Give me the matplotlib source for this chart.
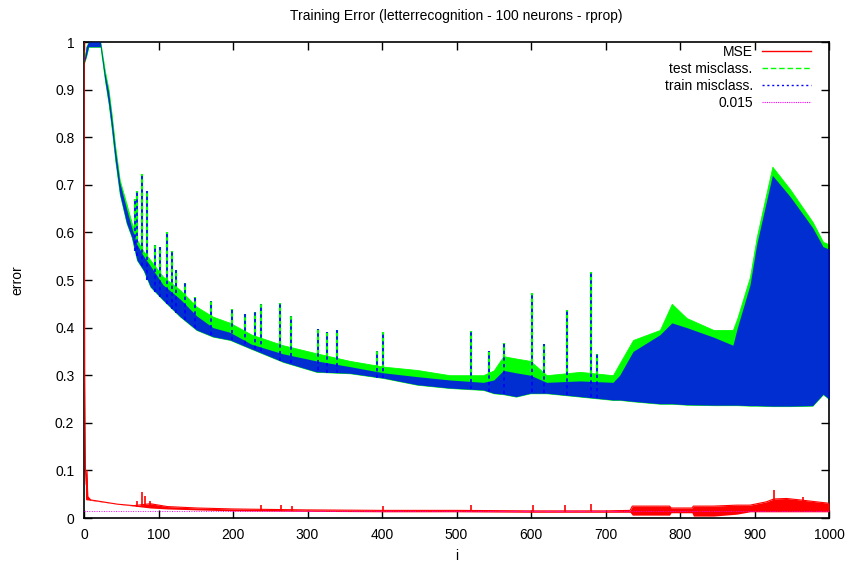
import matplotlib
matplotlib.use("Agg")
import matplotlib.pyplot as plt
from matplotlib.lines import Line2D

plt.rcParams['font.family'] = ['Liberation Sans', 'DejaVu Sans']

title = "Training Error (letterrecognition - 100 neurons - rprop)"
x_ticks = [0, 100, 200, 300, 400, 500, 600, 700, 800, 900, 1000]
y_ticks = [0, 0.1, 0.2, 0.3, 0.4, 0.5, 0.6, 0.7, 0.8, 0.9, 1]
y_tick_labels = ["0", "0.1", "0.2", "0.3", "0.4", "0.5", "0.6", "0.7", "0.8", "0.9", "1"]

# envelope sample positions for test / train misclassification
xs = [0, 3, 6, 22, 28, 33, 37, 42, 48, 57, 64, 71, 80, 89, 106, 129, 151, 173, 196, 225,
      267, 312, 357, 402, 447, 491, 536, 550, 563, 580, 599, 621, 666, 710, 719, 737, 773,
      789, 809, 845, 871, 877, 894, 903, 924, 948, 978, 992, 1000]
test_hi = [0.96, 0.99, 1.0, 1.0, 0.94, 0.90, 0.85, 0.78, 0.71, 0.66, 0.62, 0.585, 0.56, 0.542,
           0.507, 0.479, 0.444, 0.423, 0.41, 0.385, 0.363, 0.346, 0.33, 0.318, 0.311, 0.30, 0.30,
           0.31, 0.34, 0.335, 0.33, 0.30, 0.307, 0.30, 0.325, 0.374, 0.395, 0.45, 0.42, 0.395,
           0.395, 0.42, 0.507, 0.59, 0.738, 0.69, 0.622, 0.58, 0.575]
test_lo = [0.955, 0.97, 0.99, 0.99, 0.92, 0.87, 0.82, 0.75, 0.68, 0.62, 0.59, 0.542, 0.52,
           0.486, 0.458, 0.423, 0.395, 0.381, 0.374, 0.355, 0.328, 0.307, 0.304, 0.294, 0.28,
           0.273, 0.269, 0.262, 0.26, 0.255, 0.262, 0.262, 0.255, 0.248, 0.248, 0.245, 0.24,
           0.24, 0.238, 0.237, 0.237, 0.237, 0.236, 0.236, 0.235, 0.235, 0.236, 0.26, 0.25]
train_hi = [0.96, 0.99, 1.0, 1.0, 0.935, 0.895, 0.845, 0.775, 0.705, 0.65, 0.61, 0.575, 0.55,
            0.53, 0.49, 0.46, 0.425, 0.40, 0.39, 0.365, 0.345, 0.33, 0.318, 0.305, 0.297, 0.29,
            0.285, 0.29, 0.31, 0.305, 0.30, 0.285, 0.288, 0.285, 0.30, 0.35, 0.385, 0.41, 0.40,
            0.38, 0.363, 0.40, 0.49, 0.575, 0.72, 0.675, 0.61, 0.57, 0.565]
train_lo = [0.955, 0.97, 0.99, 0.99, 0.92, 0.87, 0.82, 0.75, 0.68, 0.62, 0.59, 0.542, 0.52,
            0.486, 0.458, 0.423, 0.395, 0.381, 0.374, 0.355, 0.328, 0.307, 0.304, 0.294, 0.28,
            0.273, 0.269, 0.262, 0.26, 0.255, 0.262, 0.262, 0.255, 0.248, 0.248, 0.245, 0.24,
            0.24, 0.238, 0.237, 0.237, 0.237, 0.236, 0.236, 0.235, 0.235, 0.236, 0.26, 0.25]

# isolated spikes in the misclassification curves
spike_x = [69, 71, 78, 85, 95, 102, 112, 118, 124, 136, 149, 171, 198, 216, 229, 238, 263,
           278, 314, 326, 339, 393, 401, 520, 544, 564, 602, 617, 648, 680, 688]
spike_top = [0.67, 0.686, 0.723, 0.686, 0.574, 0.57, 0.60, 0.561, 0.52, 0.493, 0.465, 0.456,
             0.44, 0.428, 0.433, 0.45, 0.452, 0.424, 0.397, 0.39, 0.395, 0.35, 0.39, 0.393,
             0.35, 0.368, 0.473, 0.365, 0.437, 0.517, 0.345]
spike_base = [0.56, 0.55, 0.53, 0.50, 0.475, 0.465, 0.45, 0.44, 0.43, 0.415, 0.40, 0.385,
              0.375, 0.365, 0.355, 0.35, 0.33, 0.325, 0.31, 0.305, 0.305, 0.295, 0.295, 0.27,
              0.265, 0.26, 0.265, 0.262, 0.258, 0.255, 0.253]

# MSE envelope
mse_x = [0, 1, 2, 3, 4, 5, 9, 45, 67, 89, 112, 152, 200, 300, 400, 500, 600, 700, 733, 736,
         786, 788, 816, 818, 845, 876, 894, 916, 926, 943, 961, 983, 1000]
mse_hi = [1.0, 0.30, 0.10, 0.07, 0.10, 0.045, 0.038, 0.029, 0.026, 0.03, 0.024, 0.021, 0.019,
          0.017, 0.016, 0.016, 0.015, 0.015, 0.016, 0.025, 0.025, 0.021, 0.021, 0.025, 0.025,
          0.027, 0.027, 0.034, 0.040, 0.041, 0.038, 0.034, 0.031]
mse_lo = [1.0, 0.30, 0.04, 0.038, 0.038, 0.038, 0.037, 0.029, 0.025, 0.021, 0.019, 0.017,
          0.015, 0.014, 0.013, 0.013, 0.012, 0.012, 0.012, 0.006, 0.006, 0.011, 0.011, 0.004,
          0.004, 0.008, 0.013, 0.013, 0.013, 0.013, 0.013, 0.013, 0.013]
mse_spike_x = [71, 78, 82, 89, 238, 264, 279, 402, 520, 603, 646, 681, 926, 965]
mse_spike_top = [0.035, 0.055, 0.046, 0.035, 0.027, 0.028, 0.025, 0.026, 0.027, 0.027, 0.027,
                 0.029, 0.059, 0.045]
mse_spike_base = [0.024, 0.023, 0.023, 0.021, 0.015, 0.015, 0.015, 0.013, 0.013, 0.012,
                  0.012, 0.012, 0.013, 0.013]

threshold = 0.015

GREEN = "#00ff00"
BLUE = "#0000ff"
RED = "#ff0000"
MAGENTA = "#ff00ff"

fig = plt.figure(figsize=(8.56, 5.68), dpi=100)
ax = fig.add_axes([84 / 856, 50 / 568, 745 / 856, 476 / 568])

# test misclassification (green)
ax.fill_between(xs, test_lo, test_hi, color=GREEN, lw=0.6, zorder=2)
ax.vlines(spike_x, spike_base, spike_top, color=GREEN, lw=1.6, zorder=2)

# train misclassification (blue)
ax.fill_between(xs, train_lo, train_hi, color=BLUE, alpha=0.82, lw=0, zorder=3)
ax.vlines(spike_x, spike_base, spike_top, color=BLUE, lw=1.2, ls=(0, (2, 2)), zorder=3)

# MSE (red)
ax.fill_between(mse_x, mse_lo, mse_hi, color=RED, lw=0, zorder=4)
ax.plot(mse_x, mse_hi, color=RED, lw=0.8, zorder=4)
ax.vlines(mse_spike_x, mse_spike_base, mse_spike_top, color=RED, lw=1.2, zorder=4)

# threshold
ax.axhline(threshold, color=MAGENTA, lw=0.7, ls=(0, (1, 1.5)), zorder=5)

ax.set_xlim(0, 1000)
ax.set_ylim(0, 1)
ax.set_xticks(x_ticks)
ax.set_xticklabels([str(t) for t in x_ticks])
ax.set_yticks(y_ticks)
ax.set_yticklabels(y_tick_labels)
ax.tick_params(direction='in', length=6, width=1, top=True, right=True,
               labelsize=10, pad=7, colors='black')
for s in ax.spines.values():
    s.set_linewidth(1.2)

ax.set_title(title, fontsize=10, pad=16)
ax.set_xlabel("i", fontsize=10, labelpad=5)
ax.set_ylabel("error", fontsize=10, labelpad=22)

handles = [
    Line2D([], [], color=RED, lw=1.0),
    Line2D([], [], color=GREEN, lw=1.0, ls=(0, (4, 2))),
    Line2D([], [], color=BLUE, lw=1.0, ls=(0, (1.5, 2))),
    Line2D([], [], color=MAGENTA, lw=0.8, ls=(0, (1, 1))),
]
labels = ["MSE", "test misclass.", "train misclass.", "0.015"]
ax.legend(handles, labels, loc='upper right', bbox_to_anchor=(811 / 856, 1 - 45 / 568),
          bbox_transform=fig.transFigure, frameon=False, markerfirst=False,
          handlelength=3.5, handletextpad=0.7, labelspacing=0.22, borderpad=0,
          borderaxespad=0, fontsize=10)

fig.savefig("out.png", dpi=100)
